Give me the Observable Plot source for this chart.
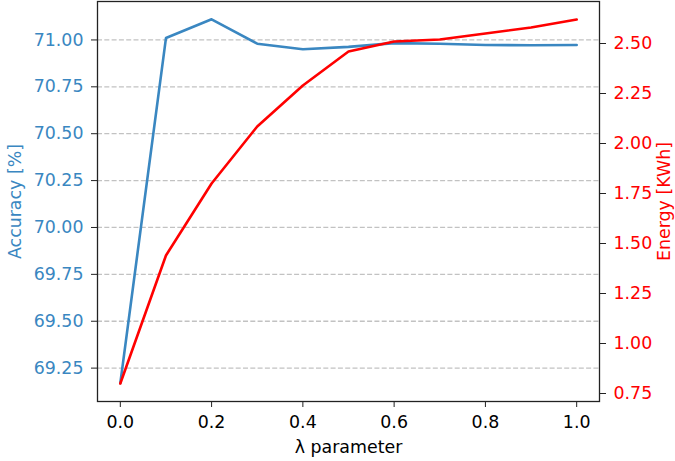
<!DOCTYPE html>
<html>
<head>
<meta charset="utf-8">
<script src="https://cdn.jsdelivr.net/npm/d3@7"></script>
<script src="https://cdn.jsdelivr.net/npm/@observablehq/plot@0.6"></script>
<style>
  html, body { margin: 0; padding: 0; background: #fff; }
  #chart svg { display: block; }
</style>
</head>
<body>
<div id="chart"></div>
<script>
// ---- data ----
const lambdas  = [0.0, 0.1, 0.2, 0.3, 0.4, 0.5, 0.6, 0.7, 0.8, 0.9, 1.0];
const accuracy = [69.17, 71.01, 71.11, 70.98, 70.95, 70.963, 70.983, 70.98, 70.973, 70.972, 70.973];
const energy   = [0.80, 1.44, 1.80, 2.085, 2.29, 2.46, 2.51, 2.52, 2.55, 2.58, 2.62];

const xTicks      = [0.0, 0.2, 0.4, 0.6, 0.8, 1.0];
const accTicks    = [69.25, 69.5, 69.75, 70.0, 70.25, 70.5, 70.75, 71.0];
const energyTicks = [0.75, 1.0, 1.25, 1.5, 1.75, 2.0, 2.25, 2.5];

const xDomain      = [-0.05, 1.05];
const accDomain    = [69.072, 71.205];
const energyDomain = [0.71, 2.71];

// ---- styling ----
const blue = "#3a87c1";
const red  = "#ff0000";

// map energy into accuracy scale space (twin axis)
const toAcc = d3.scaleLinear().domain(energyDomain).range(accDomain);

const rows = lambdas.map((l, i) => ({lambda: l, acc: accuracy[i], en: energy[i]}));

const chart = Plot.plot({
  width: 675,
  height: 461,
  marginLeft: 97,
  marginRight: 76,
  marginTop: 1,
  marginBottom: 60,
  style: {fontFamily: "'DejaVu Sans', sans-serif", fontSize: "17.4px", background: "#fff", color: "#000"},
  x: {domain: xDomain},
  y: {domain: accDomain},
  marks: [
    Plot.gridY(accTicks, {stroke: "#c2c2c2", strokeOpacity: 1, strokeWidth: 1.3, strokeDasharray: "5,2.3"}),
    Plot.line(rows, {x: "lambda", y: "acc", stroke: blue, strokeWidth: 2.6}),
    Plot.line(rows, {x: "lambda", y: d => toAcc(d.en), stroke: red, strokeWidth: 2.6}),
    Plot.axisX(xTicks, {anchor: "bottom", tickSize: 6, tickPadding: 8, tickFormat: d3.format(".1f"), label: null, stroke: "#222", fill: "#000"}),
    Plot.axisY(accTicks, {anchor: "left", tickSize: 6, tickPadding: 8, tickFormat: d3.format(".2f"), label: null, stroke: "#222", fill: blue}),
    Plot.axisY(energyTicks.map(e => toAcc(e)), {anchor: "right", tickSize: 6, tickPadding: 8,
      tickFormat: (d, i) => d3.format(".2f")(energyTicks[i]), label: null, stroke: "#222", fill: red}),
    Plot.frame({stroke: "#222", strokeWidth: 1.3}),
    Plot.text(["Accuracy [%]"], {frameAnchor: "left", dx: -82, rotate: -90, fill: blue, textAnchor: "middle", lineAnchor: "middle"}),
    Plot.text(["Energy [KWh]"], {frameAnchor: "right", dx: 65, rotate: -90, fill: red, textAnchor: "middle", lineAnchor: "middle"}),
    Plot.text(["λ parameter"], {frameAnchor: "bottom", dy: 46, fill: "#000", textAnchor: "middle", lineAnchor: "middle"})
  ]
});
document.getElementById("chart").appendChild(chart);
</script>
</body>
</html>
